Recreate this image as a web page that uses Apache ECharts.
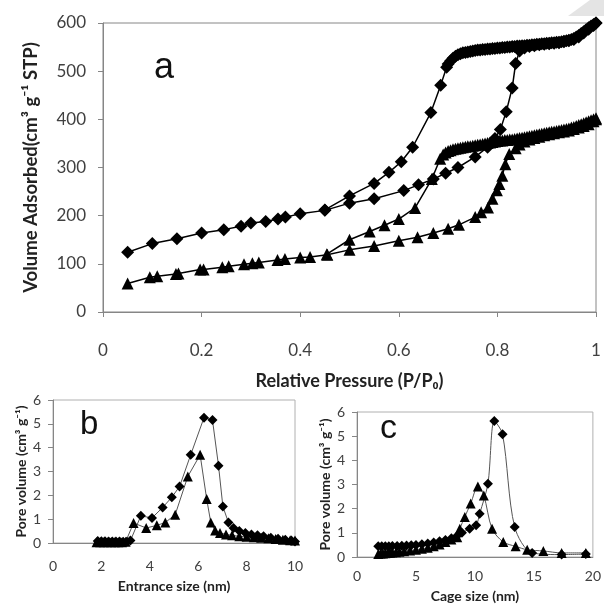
<!DOCTYPE html>
<html><head><meta charset="utf-8">
<script src="https://cdn.jsdelivr.net/npm/echarts@6/dist/echarts.min.js"></script>
<style>html,body{margin:0;padding:0;background:#fff}#c{width:604px;height:605px}</style>
</head><body><div id="c"></div>
<script>
// ---- Panel a: N2 isotherms ----
const aDiaAdsX = [0.05,0.10,0.15,0.20,0.245,0.28,0.30,0.33,0.355,0.37,0.40,0.45,0.50,0.55,0.61,0.64,0.67,0.695,0.72,0.755,0.78,0.795,0.806,0.818,0.83,0.837,0.845,0.855,0.865,0.875,0.885,0.895,0.905,0.915,0.925,0.935,0.945,0.955,0.965,0.975,0.985,0.995,1.0];
const aDiaAdsY = [124,142,152,164,171,178,185,188,193,197,204,211,226,235,252,264,276,288,300,322,342,360,379,416,465,516,542,548,551,553,555,556,557,558,559,561,563,566,571,579,587,595,600];
const aDiaDesX = [1.0,0.995,0.99,0.985,0.98,0.975,0.97,0.965,0.96,0.955,0.95,0.945,0.94,0.935,0.93,0.925,0.92,0.915,0.91,0.905,0.90,0.895,0.89,0.885,0.88,0.875,0.87,0.865,0.86,0.855,0.85,0.845,0.84,0.835,0.83,0.825,0.82,0.815,0.81,0.805,0.80,0.795,0.79,0.785,0.78,0.775,0.77,0.765,0.76,0.755,0.75,0.745,0.74,0.735,0.73,0.725,0.72,0.715,0.71,0.705,0.70,0.697,0.685,0.665,0.628,0.605,0.58,0.55,0.50,0.45];
const aDiaDesY = [600,597,594,590,586,582,578,574,571,568,566,564,563,562,561,560,560,559,559,558,558,557,557,556,556,555,555,554,554,553,553,552,552,551,551,550,550,549,549,548,548,547,547,546,546,545,545,544,544,543,542,541,540,539,538,536,534,531,527,521,515,508,471,414,342,312,290,267,241,212];
const aTriAdsX = [0.05,0.095,0.11,0.148,0.153,0.197,0.204,0.242,0.255,0.286,0.303,0.316,0.354,0.369,0.40,0.42,0.455,0.50,0.55,0.60,0.638,0.67,0.70,0.722,0.755,0.767,0.781,0.79,0.799,0.804,0.81,0.816,0.824,0.837,0.845,0.855,0.865,0.875,0.885,0.895,0.905,0.915,0.925,0.935,0.945,0.955,0.965,0.975,0.985,0.995,1.0];
const aTriAdsY = [59,72,74,79,80,88,88,93,95,99,101,103,108,110,113,114,119,129,137,148,155,164,173,181,197,207,217,235,253,266,283,307,328,340,348,354,358,361,364,367,369,371,373,375,377,380,383,386,390,396,400];
const aTriDesX = [1.0,0.995,0.99,0.985,0.98,0.975,0.97,0.965,0.96,0.955,0.95,0.945,0.94,0.935,0.93,0.925,0.92,0.915,0.91,0.905,0.90,0.895,0.89,0.885,0.88,0.875,0.87,0.865,0.86,0.855,0.85,0.845,0.84,0.835,0.83,0.825,0.82,0.815,0.81,0.805,0.80,0.795,0.79,0.785,0.78,0.775,0.77,0.765,0.76,0.755,0.75,0.745,0.74,0.735,0.73,0.725,0.72,0.715,0.71,0.705,0.70,0.695,0.69,0.684,0.667,0.633,0.60,0.571,0.541,0.50,0.454];
const aTriDesY = [402,400,398,396,394,392,390,388,386,384,383,381,380,379,378,377,376,375,374,373,372,371,370,369,368,367,366,365,364,363,362,361,360,359,358,358,357,357,356,356,355,354,353,352,351,350,349,348,347,346,345,344,344,343,342,341,340,339,338,336,334,331,327,318,276,216,193,180,167,150,120];

// ---- Panel b: entrance size distribution ----
const bDiaX = [1.85,2.0,2.15,2.3,2.45,2.6,2.75,2.9,3.05,3.2,3.63,4.09,4.53,4.91,5.23,5.69,6.24,6.59,6.84,7.02,7.25,7.46,7.7,7.95,8.2,8.45,8.7,9.0,9.3,9.6,9.85,10.0];
const bDiaY = [0.08,0.07,0.07,0.06,0.06,0.06,0.06,0.05,0.05,0.1,1.14,1.05,1.49,1.92,2.37,3.70,5.26,5.16,3.24,1.53,0.86,0.63,0.5,0.42,0.36,0.32,0.28,0.22,0.18,0.14,0.1,0.06];
const bTriX = [1.8,1.95,2.1,2.25,2.4,2.55,2.7,2.85,3.0,3.33,3.85,4.29,4.64,5.05,5.57,6.08,6.35,6.52,6.7,6.9,7.15,7.4,7.7,8.0,8.3,8.6,8.9,9.2,9.5,9.8,10.0];
const bTriY = [0.03,0.03,0.03,0.03,0.03,0.03,0.03,0.03,0.05,0.84,0.63,0.74,0.86,1.19,2.79,3.70,1.85,0.86,0.52,0.42,0.36,0.32,0.28,0.26,0.24,0.22,0.2,0.17,0.14,0.12,0.1];

// ---- Panel c: cage size distribution ----
const cDiaX = [1.8,2.1,2.4,2.7,3.0,3.4,3.8,4.2,4.6,5.0,5.5,6.0,6.5,7.0,7.5,8.0,8.5,8.9,9.55,10.1,10.4,11.1,11.64,12.34,13.37,14.85,17.35,19.4];
const cDiaY = [0.45,0.45,0.45,0.45,0.46,0.46,0.47,0.48,0.49,0.5,0.53,0.56,0.6,0.65,0.7,0.78,0.88,1.0,1.17,1.31,1.79,3.03,5.63,5.08,1.24,0.17,0.1,0.12];
const cTriX = [1.8,2.0,2.2,2.4,2.6,2.8,3.0,3.3,3.6,4.0,4.5,5.0,5.5,6.0,6.5,7.0,7.5,8.0,8.5,8.72,9.14,9.64,10.25,10.75,11.45,12.4,13.45,14.43,15.8,17.35,19.4];
const cTriY = [0.12,0.14,0.15,0.16,0.17,0.18,0.19,0.2,0.22,0.24,0.27,0.3,0.34,0.38,0.44,0.52,0.62,0.72,0.82,1.17,1.66,2.21,2.92,2.55,1.17,0.62,0.44,0.30,0.25,0.17,0.17];

const zip = (xs, ys) => xs.map((x, i) => [x, ys[i]]);
const FONT = 'Lato, "Open Sans", sans-serif';
const AX = '#868686';
const LBL = '#404040';

function axisBase(min, max, interval, fs, margin) {
  return {
    type: 'value', min, max, interval,
    axisLine: { show: true, lineStyle: { color: AX, width: 1 } },
    axisTick: { show: true, inside: false, length: 5, lineStyle: { color: AX } },
    splitLine: { show: false },
    axisLabel: { color: LBL, fontSize: fs, fontFamily: FONT, margin }
  };
}

const chart = echarts.init(document.getElementById('c'), null, { renderer: 'canvas' });
const option = {
  animation: false,
  backgroundColor: '#fff',
  grid: [
    { left: 103, top: 23, width: 493, height: 289, show: true, borderColor: AX, borderWidth: 1 },
    { left: 53, top: 400, width: 242, height: 143, show: true, borderColor: '#b0b0b0', borderWidth: 1 },
    { left: 357, top: 412, width: 240, height: 145, show: true, borderColor: '#b0b0b0', borderWidth: 1 }
  ],
  xAxis: [
    Object.assign(axisBase(0, 1, 0.2, 17, 30), {
      gridIndex: 0, name: 'Relative Pressure (P/P\u2080)', nameLocation: 'middle', nameGap: 60,
      nameTextStyle: { fontSize: 18, fontWeight: 'bold', color: '#222', fontFamily: FONT },
      axisLabel: { color: LBL, fontSize: 17, fontFamily: FONT, margin: 30, formatter: v => String(+v.toFixed(1)) }
    }),
    Object.assign(axisBase(0, 10, 2, 14, 16), {
      gridIndex: 1, name: 'Entrance size (nm)', nameLocation: 'middle', nameGap: 36,
      axisTick: { show: false },
      nameTextStyle: { fontSize: 14, fontWeight: 'bold', color: '#222', fontFamily: FONT }
    }),
    Object.assign(axisBase(0, 20, 5, 14, 12), {
      gridIndex: 2, name: 'Cage size (nm)', nameLocation: 'middle', nameGap: 32,
      axisTick: { show: false },
      nameTextStyle: { fontSize: 14, fontWeight: 'bold', color: '#222', fontFamily: FONT }
    })
  ],
  yAxis: [
    Object.assign(axisBase(0, 600, 100, 17, 17), {
      gridIndex: 0, name: 'Volume Adsorbed(cm\u00b3 g\u207b\u00b9 STP)', nameLocation: 'middle', nameGap: 62,
      nameTextStyle: { fontSize: 18.5, fontWeight: 'bold', color: '#222', fontFamily: FONT }
    }),
    Object.assign(axisBase(0, 6, 1, 14, 12), {
      gridIndex: 1, name: 'Pore volume (cm\u00b3 g\u207b\u00b9)', nameLocation: 'middle', nameGap: 25,
      nameTextStyle: { fontSize: 14, fontWeight: 'bold', color: '#222', fontFamily: FONT }
    }),
    Object.assign(axisBase(0, 6, 1, 14, 12), {
      gridIndex: 2, name: 'Pore volume (cm\u00b3 g\u207b\u00b9)', nameLocation: 'middle', nameGap: 21,
      nameTextStyle: { fontSize: 14, fontWeight: 'bold', color: '#222', fontFamily: FONT }
    })
  ],
  series: [
    { type: 'line', xAxisIndex: 0, yAxisIndex: 0, data: zip(aDiaAdsX, aDiaAdsY), symbol: 'diamond', symbolSize: 13, lineStyle: { color: '#000', width: 1.5 }, itemStyle: { color: '#000' } },
    { type: 'line', xAxisIndex: 0, yAxisIndex: 0, data: zip(aDiaDesX, aDiaDesY), symbol: 'diamond', symbolSize: 13, lineStyle: { color: '#000', width: 1.5 }, itemStyle: { color: '#000' } },
    { type: 'line', xAxisIndex: 0, yAxisIndex: 0, data: zip(aTriAdsX, aTriAdsY), symbol: 'triangle', symbolSize: 12, lineStyle: { color: '#000', width: 1.5 }, itemStyle: { color: '#000' } },
    { type: 'line', xAxisIndex: 0, yAxisIndex: 0, data: zip(aTriDesX, aTriDesY), symbol: 'triangle', symbolSize: 12, lineStyle: { color: '#000', width: 1.5 }, itemStyle: { color: '#000' } },
    { type: 'line', xAxisIndex: 1, yAxisIndex: 1, data: zip(bDiaX, bDiaY), symbol: 'diamond', symbolSize: 10, lineStyle: { color: '#555', width: 1 }, itemStyle: { color: '#000' } },
    { type: 'line', xAxisIndex: 1, yAxisIndex: 1, data: zip(bTriX, bTriY), symbol: 'triangle', symbolSize: 10, lineStyle: { color: '#555', width: 1 }, itemStyle: { color: '#000' } },
    { type: 'line', xAxisIndex: 2, yAxisIndex: 2, data: zip(cDiaX, cDiaY), symbol: 'diamond', symbolSize: 10, smooth: 0.3, lineStyle: { color: '#555', width: 1 }, itemStyle: { color: '#000' } },
    { type: 'line', xAxisIndex: 2, yAxisIndex: 2, data: zip(cTriX, cTriY), symbol: 'triangle', symbolSize: 10, smooth: 0.3, lineStyle: { color: '#555', width: 1 }, itemStyle: { color: '#000' } }
  ],
  graphic: [
    { type: 'text', left: 154, top: 50, style: { text: 'a', font: '36px "Liberation Sans", Arial, sans-serif', fill: '#111' } },
    { type: 'text', left: 80, top: 408, style: { text: 'b', font: '33px "Liberation Sans", Arial, sans-serif', fill: '#111' } },
    { type: 'text', left: 380, top: 412, style: { text: 'c', font: '34px "Liberation Sans", Arial, sans-serif', fill: '#111' } },
    { type: 'polygon', shape: { points: [[568, 16], [590, 0], [604, 0], [604, 16]] }, style: { fill: '#e4e4e4' } }
  ]
};
chart.setOption(option);
</script></body></html>
